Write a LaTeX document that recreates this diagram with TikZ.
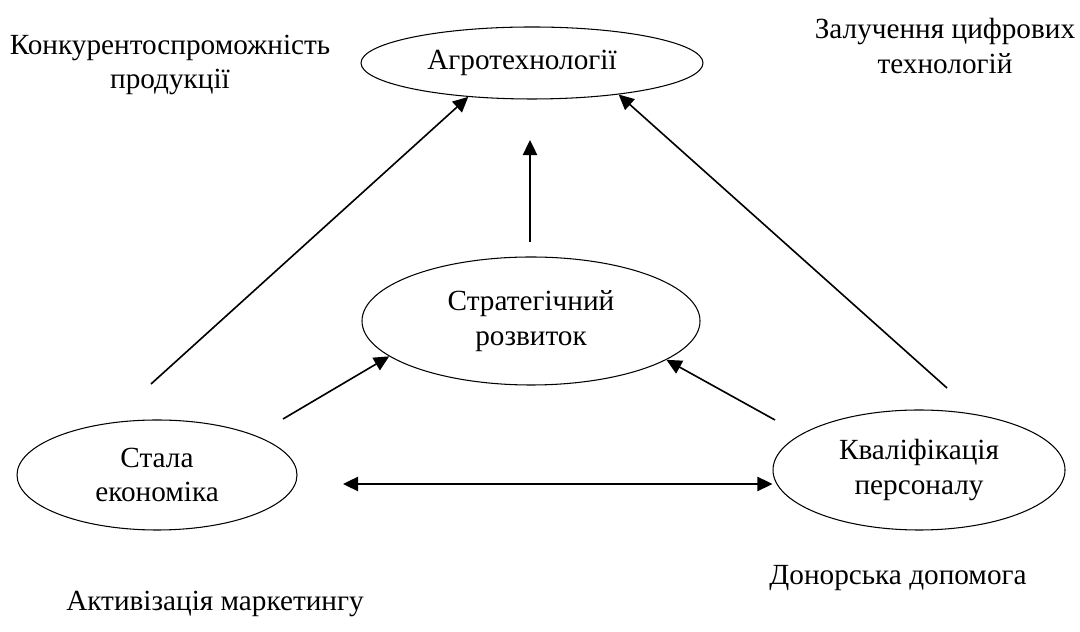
\documentclass[tikz,border=0pt]{standalone}
\usepackage{fontspec}
\setmainfont{Liberation Serif}
\usetikzlibrary{shapes.geometric, arrows.meta, calc}

\begin{document}
\begin{tikzpicture}[scale=1.0,
    txt/.style={font=\fontsize{20.8}{24.5}\selectfont, align=center, inner sep=0pt},
    oval/.style={ellipse, draw, line width=0.75pt, txt},
    link/.style={line width=1.15pt, -{Triangle[length=3.8mm, width=3.6mm]}},
    both/.style={line width=1.15pt, {Triangle[length=3.8mm, width=3.6mm]}-{Triangle[length=3.8mm, width=3.6mm]}}]
  \useasboundingbox (0,0) rectangle (27,15.8);
  % ellipses
  \node[oval, minimum width=8.55cm, minimum height=1.8cm] (agro) at (13.3,14.225) {Агротехнології\hspace{0.5cm}};
  \node[oval, minimum width=8.45cm, minimum height=3.2cm] (strat) at (13.275,7.775) {Стратегічний\\розвиток};
  \node[oval, minimum width=7.0cm, minimum height=2.75cm] (econ) at (3.925,3.925) {Стала\\економіка};
  \node[oval, minimum width=7.3cm, minimum height=3.0cm] (staff) at (22.975,4.05) {Кваліфікація\\персоналу};
  % free labels
  \node[txt] (compet) at (4.25,14.175) {Конкурентоспроможність\\продукції};
  \node[txt] (digit) at (23.625,14.65) {Залучення цифрових\\технологій};
  \node[txt] (market) at (5.375,0.7) {Активізація маркетингу};
  \node[txt] (donor) at (22.45,1.35) {Донорська допомога};
  % arrow tails
  \coordinate (econup) at (3.775,6.20);
  \coordinate (staffup) at (23.675,6.10);
  \coordinate (stratup) at (13.25,9.75);
  \coordinate (agrolow) at (13.25,12.30);
  \coordinate (econin) at (7.075,5.325);
  \coordinate (staffin) at (19.375,5.30);
  \coordinate (hleft) at (8.575,3.70);
  % arrows
  \draw[link] (econup) -- (agro.208);
  \draw[link] (staffup) -- (agro.340);
  \draw[link] (stratup) -- (agrolow);
  \draw[link] (econin) -- (strat.194);
  \draw[link] (staffin) -- (strat.344);
  \draw[both] (hleft) -- (hleft -| staff.west);
\end{tikzpicture}
\end{document}
